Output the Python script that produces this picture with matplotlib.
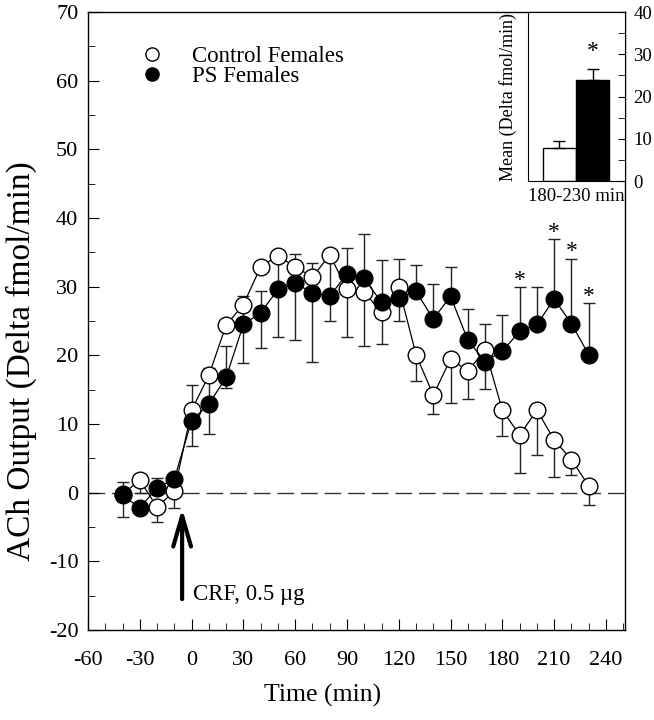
import numpy as np
import matplotlib
matplotlib.use("Agg")
import matplotlib.pyplot as plt
from matplotlib.lines import Line2D
from matplotlib.ticker import MultipleLocator

plt.rcParams["font.family"] = ["Liberation Serif", "DejaVu Serif"]
plt.rcParams["axes.unicode_minus"] = False

# time points (min)
times = [-40, -30, -20, -10, 0, 10, 20, 30, 40, 50, 60, 70, 80, 90, 100,
         110, 120, 130, 140, 150, 160, 170, 180, 190, 200, 210, 220, 230]

# Control females (open circles)
ctrl = [-0.2, 1.8, -2.1, 0.2, 12.0, 17.1, 24.4, 27.4, 32.9, 34.5, 32.9, 31.4, 34.6, 29.7,
        29.2, 26.3, 29.9, 20.1, 14.2, 19.5, 17.7, 20.8, 12.0, 8.4, 12.0, 7.7, 4.8, 1.0]
ctrl_lo = [0, 1.9, 2.2, 2.5, 0, 0, 0, 0, 0, 0, 0, 0, 0, 0,
           0, 0, 0, 3.9, 2.7, 6.4, 4.0, 5.7, 3.8, 5.5, 6.5, 5.4, 2.2, 2.8]
ctrl_hi = [0, 0, 0, 0, 3.7, 0, 0, 0, 0, 0, 0, 0, 0, 0,
           0, 0, 0, 0, 0, 0, 0, 0, 0, 0, 0, 0, 0, 0]

# PS females (filled circles)
ps = [-0.4, -2.2, 0.7, 2.0, 10.5, 12.9, 16.8, 24.5, 26.2, 29.6, 30.5, 29.1, 28.6, 31.9,
      31.2, 27.7, 28.4, 29.3, 25.3, 28.6, 22.2, 19.1, 20.6, 23.5, 24.5, 28.2, 24.6, 20.1]
ps_lo = [3.2, 0, 0, 0, 3.7, 4.4, 1.6, 5.6, 5.1, 7.0, 8.3, 10.1, 3.6, 9.3,
         9.9, 6.1, 3.4, 0, 0, 0, 0, 0, 0, 0, 0, 0, 0, 0]
ps_hi = [2.0, 0, 1.5, 0, 0, 5.3, 4.6, 4.1, 3.1, 4.3, 4.3, 4.4, 5.3, 3.7,
         6.4, 6.2, 5.6, 3.9, 5.1, 4.2, 4.5, 5.4, 5.3, 6.4, 5.4, 8.7, 9.5, 7.5]

# significant points (asterisks)
sig_times = [190, 210, 220, 230]

# inset: mean 180-230 min
bar_means = [7.8, 23.8]
bar_errs = [1.6, 2.8]

fig = plt.figure(figsize=(6.54, 7.2), dpi=100)
ax = fig.add_axes([0.1346, 0.125, 0.821, 0.8583])

ax.axhline(0, color="#333333", lw=1, dashes=(12, 5), zorder=1)

ax.errorbar(times, ctrl, yerr=[ctrl_lo, ctrl_hi], fmt="none", ecolor="#222222",
            elinewidth=1, capsize=4.5, capthick=1, zorder=2)
ax.errorbar(times, ps, yerr=[ps_lo, ps_hi], fmt="none", ecolor="#222222",
            elinewidth=1, capsize=4.5, capthick=1, zorder=2)
ax.plot(times, ctrl, "-o", color="black", lw=0.9, ms=12, mfc="white",
        mec="black", mew=1, zorder=3)
ax.plot(times, ps, "-o", color="black", lw=0.9, ms=12, mfc="black",
        mec="black", mew=1, zorder=4)

# asterisks above PS error bars
for t in sig_times:
    i = times.index(t)
    ax.text(t, ps[i] + ps_hi[i] + 0.2, "*", ha="center", va="baseline", fontsize=17)

# CRF arrow
ax.annotate("", xy=(-5.5, -2.3), xytext=(-5.5, -15.5),
            arrowprops=dict(arrowstyle="->,head_length=1.1,head_width=0.32",
                            mutation_scale=20, lw=3, color="black",
                            shrinkA=0, shrinkB=0))
ax.text(0.8, -15.6, "CRF, 0.5 \u00b5g", fontsize=16.5, va="baseline", ha="left")

ax.set_xlim(-60, 251)
ax.set_ylim(-20, 70)
ax.xaxis.set_major_locator(MultipleLocator(30))
ax.xaxis.set_minor_locator(MultipleLocator(10))
ax.yaxis.set_major_locator(MultipleLocator(10))
ax.yaxis.set_minor_locator(MultipleLocator(5))
ax.tick_params(which="both", direction="in", top=False, right=False, labelsize=16)
ax.tick_params(axis="x", which="major", length=8, pad=15)
ax.tick_params(axis="x", which="minor", length=5)
ax.tick_params(axis="y", which="major", length=8, pad=7)
ax.tick_params(axis="y", which="minor", length=5)
for sp in ax.spines.values():
    sp.set_linewidth(1)

ax.set_xlabel("Time (min)", fontsize=18.5)
ax.xaxis.set_label_coords(0.436, -0.088)
ax.set_ylabel("ACh Output (Delta fmol/min)", fontsize=24)
ax.yaxis.set_label_coords(-0.095, 0.435)

handles = [Line2D([], [], ls="none", marker="o", ms=9.5, mfc="white", mec="black"),
           Line2D([], [], ls="none", marker="o", ms=9.5, mfc="black", mec="black")]
ax.legend(handles, ["Control Females", "PS Females"], loc="upper left",
          bbox_to_anchor=(0.077, 0.963), frameon=False, fontsize=16.5,
          handlelength=1.0, handletextpad=1.25, labelspacing=-0.08, borderpad=0)

# inset bar chart
axi = fig.add_axes([0.8073, 0.7486, 0.1483, 0.2347])
axi.bar([0.5, 1.5], bar_means, width=1.0, color=["white", "black"],
        edgecolor="black", lw=1)
axi.errorbar([0.5, 1.5], bar_means, yerr=[[0, 0], bar_errs], fmt="none",
             ecolor="black", elinewidth=1, capsize=4.5, capthick=1)
axi.text(1.5, bar_means[1] + bar_errs[1] + 2.8, "*", ha="center", va="baseline", fontsize=17)
axi.set_xlim(-0.45, 2.48)
axi.set_ylim(0, 40)
axi.set_xticks([])
axi.yaxis.tick_right()
axi.yaxis.set_major_locator(MultipleLocator(10))
axi.yaxis.set_minor_locator(MultipleLocator(5))
axi.tick_params(which="both", direction="in", labelsize=13.5, pad=6)
axi.tick_params(which="major", length=5)
axi.tick_params(which="minor", length=5)
axi.yaxis.set_label_position("left")
axi.set_ylabel("Mean (Delta fmol/min)", fontsize=13, labelpad=8)
axi.set_xlabel("180-230 min", fontsize=13.5, labelpad=5)

fig.savefig("out.png", dpi=100)
